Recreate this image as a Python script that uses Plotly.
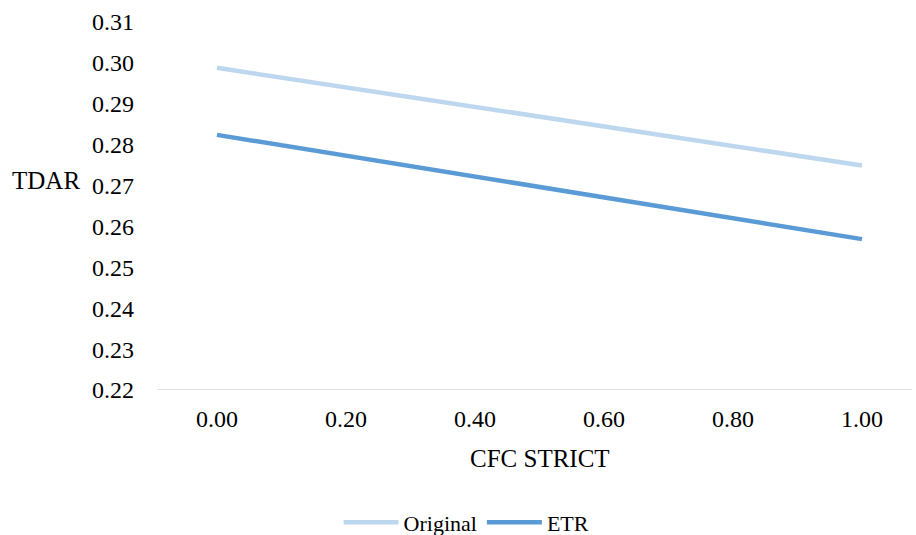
import plotly.graph_objects as go

x_vals = [0.0, 1.0]
original = [0.2988, 0.2749]
etr = [0.2824, 0.2569]
x_ticks = [0.0, 0.2, 0.4, 0.6, 0.8, 1.0]
y_ticks = [0.22, 0.23, 0.24, 0.25, 0.26, 0.27, 0.28, 0.29, 0.30, 0.31]

font_family = "Liberation Serif"

fig = go.Figure()
fig.add_trace(go.Scatter(x=x_vals, y=original, mode="lines", name="Original",
                         line=dict(color="#BDD7EE", width=4.5)))
fig.add_trace(go.Scatter(x=x_vals, y=etr, mode="lines", name="ETR",
                         line=dict(color="#5B9BD5", width=4.5)))

fig.update_layout(
    width=916, height=535,
    margin=dict(l=157, r=4, t=22, b=145, autoexpand=False),
    paper_bgcolor="white", plot_bgcolor="white",
    font=dict(family=font_family, size=24, color="black"),
    showlegend=True,
    legend=dict(orientation="h", x=0.41, xanchor="center", y=-0.36, yanchor="middle",
                font=dict(family=font_family, size=22), itemwidth=55),
    xaxis=dict(range=[-0.093, 1.0775], tickvals=x_ticks,
               ticktext=[f"{v:.2f}" for v in x_ticks],
               showgrid=False, zeroline=False, showline=False, ticks="",
               ticklabelstandoff=12, tickfont=dict(family=font_family, size=24)),
    yaxis=dict(range=[0.22, 0.31], tickvals=y_ticks,
               ticktext=[f"{v:.2f}" for v in y_ticks],
               showgrid=False, zeroline=False, showline=False, ticks="",
               ticklabelstandoff=22, tickfont=dict(family=font_family, size=24)),
)
fig.add_shape(type="line", xref="paper", yref="y", x0=0, x1=1, y0=0.22, y1=0.22,
              line=dict(color="#D9D9D9", width=1.3))
fig.add_annotation(text="TDAR", xref="paper", yref="paper", x=-0.147, y=0.57,
                   xanchor="center", yanchor="middle", showarrow=False,
                   font=dict(family=font_family, size=25))
fig.add_annotation(text="CFC STRICT", xref="paper", yref="paper", x=0.507, y=-0.185,
                   xanchor="center", yanchor="middle", showarrow=False,
                   font=dict(family=font_family, size=25))
fig.write_html("out.html")
